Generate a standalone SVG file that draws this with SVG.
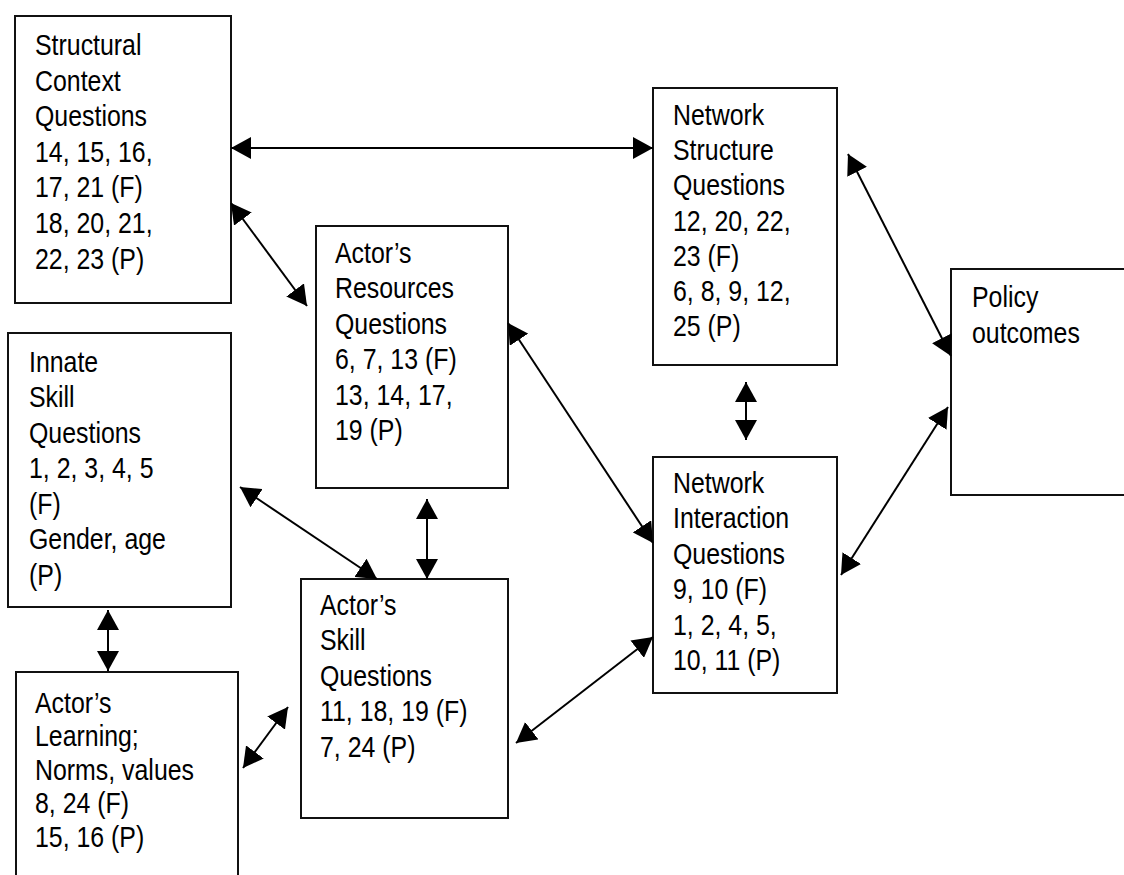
<svg xmlns="http://www.w3.org/2000/svg" width="1124" height="875" viewBox="0 0 1124 875">
  <defs>
    <style>
      .box { fill: #ffffff; stroke: #111111; stroke-width: 2; }
      .lbl { font-family: "Liberation Sans", Arial, sans-serif; font-size: 30px; fill: #000000; }
      .link { stroke: #000000; stroke-width: 2; fill: none; marker-start: url(#head); marker-end: url(#head); }
    </style>
    <marker id="head" viewBox="0 0 20 22" refX="20" refY="11" markerWidth="20" markerHeight="22" markerUnits="userSpaceOnUse" orient="auto-start-reverse">
      <path d="M0,0 L20,11 L0,22 z" fill="#000000"/>
    </marker>
  </defs>

  <rect width="1124" height="875" fill="#ffffff"/>

  <!-- boxes -->
  <g id="structural-context">
    <rect class="box" x="15" y="16" width="216" height="287"/>
    <text class="lbl" transform="translate(35,55) scale(0.83,1)">
      <tspan x="0" dy="0">Structural</tspan>
      <tspan x="0" dy="35.6">Context</tspan>
      <tspan x="0" dy="35.6">Questions</tspan>
      <tspan x="0" dy="35.6">14, 15, 16,</tspan>
      <tspan x="0" dy="35.6">17, 21 (F)</tspan>
      <tspan x="0" dy="35.6">18, 20, 21,</tspan>
      <tspan x="0" dy="35.6">22, 23 (P)</tspan>
    </text>
  </g>

  <g id="network-structure">
    <rect class="box" x="653" y="88" width="184" height="277"/>
    <text class="lbl" transform="translate(673,125) scale(0.83,1)">
      <tspan x="0" dy="0">Network</tspan>
      <tspan x="0" dy="35.2">Structure</tspan>
      <tspan x="0" dy="35.2">Questions</tspan>
      <tspan x="0" dy="35.2">12, 20, 22,</tspan>
      <tspan x="0" dy="35.2">23 (F)</tspan>
      <tspan x="0" dy="35.2">6, 8, 9, 12,</tspan>
      <tspan x="0" dy="35.2">25 (P)</tspan>
    </text>
  </g>

  <g id="actors-resources">
    <rect class="box" x="316" y="226" width="192" height="262"/>
    <text class="lbl" transform="translate(335,263) scale(0.83,1)">
      <tspan x="0" dy="0">Actor’s</tspan>
      <tspan x="0" dy="35.4">Resources</tspan>
      <tspan x="0" dy="35.4">Questions</tspan>
      <tspan x="0" dy="35.4">6, 7, 13 (F)</tspan>
      <tspan x="0" dy="35.4">13, 14, 17,</tspan>
      <tspan x="0" dy="35.4">19 (P)</tspan>
    </text>
  </g>

  <g id="policy-outcomes">
    <rect class="box" x="951" y="269" width="200" height="226"/>
    <text class="lbl" transform="translate(972,307) scale(0.83,1)">
      <tspan x="0" dy="0">Policy</tspan>
      <tspan x="0" dy="36">outcomes</tspan>
    </text>
  </g>

  <g id="innate-skill">
    <rect class="box" x="8" y="333" width="223" height="274"/>
    <text class="lbl" transform="translate(29,372) scale(0.83,1)">
      <tspan x="0" dy="0">Innate</tspan>
      <tspan x="0" dy="35.5">Skill</tspan>
      <tspan x="0" dy="35.5">Questions</tspan>
      <tspan x="0" dy="35.5">1, 2, 3, 4, 5</tspan>
      <tspan x="0" dy="35.5">(F)</tspan>
      <tspan x="0" dy="35.5">Gender, age</tspan>
      <tspan x="0" dy="35.5">(P)</tspan>
    </text>
  </g>

  <g id="actors-learning">
    <rect class="box" x="16" y="672" width="222" height="250"/>
    <text class="lbl" transform="translate(35,713) scale(0.83,1)">
      <tspan x="0" dy="0">Actor’s</tspan>
      <tspan x="0" dy="33.4">Learning;</tspan>
      <tspan x="0" dy="33.4">Norms, values</tspan>
      <tspan x="0" dy="33.4">8, 24 (F)</tspan>
      <tspan x="0" dy="33.4">15, 16 (P)</tspan>
    </text>
  </g>

  <g id="actors-skill">
    <rect class="box" x="301" y="579" width="207" height="239"/>
    <text class="lbl" transform="translate(320,615) scale(0.83,1)">
      <tspan x="0" dy="0">Actor’s</tspan>
      <tspan x="0" dy="35.4">Skill</tspan>
      <tspan x="0" dy="35.4">Questions</tspan>
      <tspan x="0" dy="35.4">11, 18, 19 (F)</tspan>
      <tspan x="0" dy="35.4">7, 24 (P)</tspan>
    </text>
  </g>

  <g id="network-interaction">
    <rect class="box" x="653" y="457" width="184" height="236"/>
    <text class="lbl" transform="translate(673,493) scale(0.83,1)">
      <tspan x="0" dy="0">Network</tspan>
      <tspan x="0" dy="35.4">Interaction</tspan>
      <tspan x="0" dy="35.4">Questions</tspan>
      <tspan x="0" dy="35.4">9, 10 (F)</tspan>
      <tspan x="0" dy="35.4">1, 2, 4, 5,</tspan>
      <tspan x="0" dy="35.4">10, 11 (P)</tspan>
    </text>
  </g>

  <!-- two-way connectors -->
  <g id="connectors">
    <line class="link" x1="231" y1="148" x2="653" y2="148"/>
    <line class="link" x1="231" y1="203" x2="307" y2="306"/>
    <line class="link" x1="848" y1="154" x2="951" y2="356"/>
    <line class="link" x1="841" y1="575" x2="948" y2="407"/>
    <line class="link" x1="746" y1="382" x2="746" y2="440"/>
    <line class="link" x1="508" y1="323" x2="653" y2="543"/>
    <line class="link" x1="240" y1="487" x2="377" y2="579"/>
    <line class="link" x1="427" y1="499" x2="427" y2="579"/>
    <line class="link" x1="108" y1="610" x2="108" y2="671"/>
    <line class="link" x1="243" y1="768" x2="288" y2="707"/>
    <line class="link" x1="516" y1="743" x2="653" y2="637"/>
  </g>
</svg>
